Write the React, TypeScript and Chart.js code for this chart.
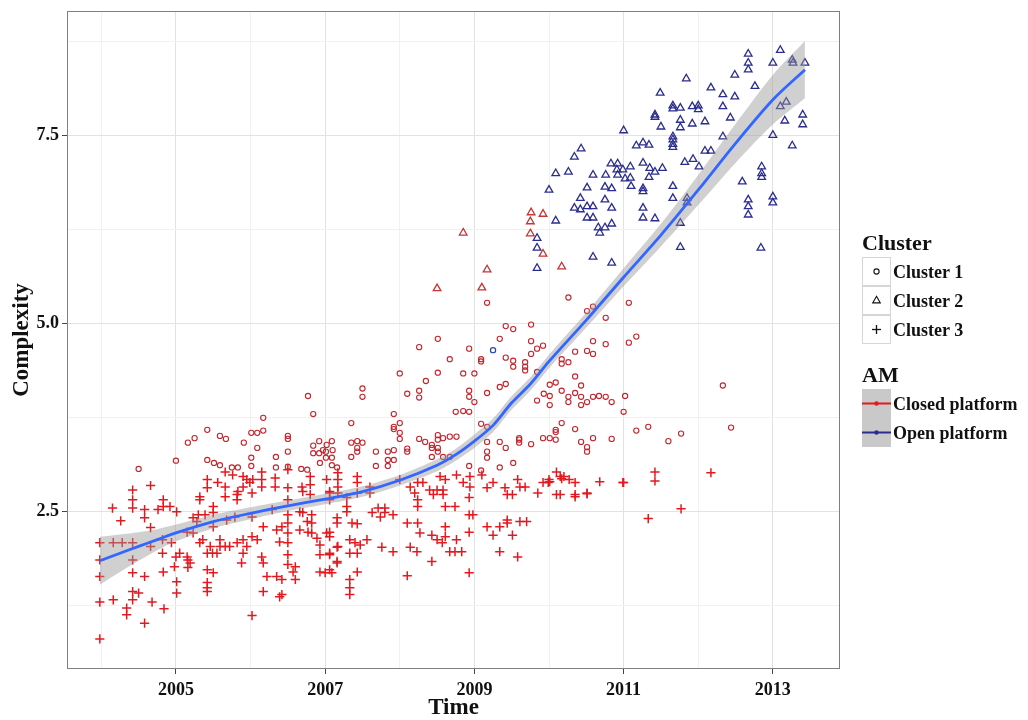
import React, { useEffect, useRef } from "react";
import { Chart, registerables } from "chart.js";

Chart.register(...registerables);

// ---------- DATA ----------
const xTickYears = [2004, 2005, 2006, 2007, 2008, 2009, 2010, 2011, 2012, 2013];
const xLabelYears = [2005, 2007, 2009, 2011, 2013];
const yTickValues = [1.25, 2.5, 3.75, 5, 6.25, 7.5, 8.75];
const yLabelValues = [2.5, 5, 7.5];

const clusterLabels = ["Cluster 1", "Cluster 2", "Cluster 3"];
const amLabels = ["Closed platform", "Open platform"];

// Closed platform, Cluster 3 (red crosses)  [time, complexity]
const closedCluster3: [number, number][] = [
  [2003.98, 2.09], [2003.98, 1.86], [2003.98, 1.64], [2003.98, 1.3], [2003.98, 0.81],
  [2004.15, 2.55], [2004.16, 2.09], [2004.16, 1.33], [2004.26, 2.38], [2004.28, 2.09],
  [2004.42, 2.79], [2004.42, 2.66], [2004.42, 2.55], [2004.42, 2.09], [2004.42, 1.86],
  [2004.42, 1.69], [2004.42, 1.44], [2004.42, 1.33], [2004.34, 1.22], [2004.34, 1.13],
  [2004.5, 1.42], [2004.58, 2.53], [2004.58, 2.42], [2004.58, 1.64], [2004.58, 1.02],
  [2004.66, 2.85], [2004.66, 2.29], [2004.66, 2.04], [2004.68, 1.3], [2004.76, 2.53],
  [2004.83, 2.66], [2004.83, 2.57], [2004.82, 2.13], [2004.82, 1.95], [2004.83, 1.7],
  [2004.84, 1.21], [2004.92, 2.57], [2004.94, 2.09], [2005.01, 2.5], [2005.0, 1.9],
  [2005.01, 1.57], [2005.01, 1.42], [2004.98, 1.77],
  [2005.42, 2.93], [2005.42, 2.82], [2005.32, 2.7], [2005.5, 2.57], [2005.5, 2.49],
  [2005.5, 2.3], [2005.32, 2.09], [2005.42, 1.95], [2005.49, 1.95], [2005.55, 1.95],
  [2005.59, 2.13], [2005.59, 2.04], [2005.42, 1.73], [2005.5, 1.69], [2005.42, 1.49],
  [2005.16, 1.86], [2005.16, 1.76], [2005.23, 2.42], [2005.28, 2.37], [2005.66, 3.03],
  [2005.66, 2.83], [2005.66, 2.7], [2005.56, 2.89], [2005.76, 2.99], [2005.82, 2.73],
  [2005.82, 2.66], [2005.68, 2.39], [2005.79, 2.43], [2005.66, 2.04], [2005.72, 2.04],
  [2005.82, 2.09], [2005.9, 2.97], [2005.95, 2.93], [2005.9, 2.83], [2005.83, 2.77],
  [2005.9, 2.13], [2005.95, 2.04], [2005.9, 1.95], [2005.88, 1.82], [2005.99, 2.89],
  [2006.03, 2.93], [2006.02, 2.75], [2006.02, 2.43], [2006.02, 2.17], [2006.09, 2.13],
  [2006.15, 3.03], [2006.15, 2.93], [2006.15, 2.83], [2006.17, 2.3], [2006.15, 1.9],
  [2006.17, 1.82], [2006.22, 1.64], [2006.35, 1.64], [2006.17, 1.44], [2006.02, 1.12],
  [2006.33, 2.95], [2006.33, 2.83], [2006.29, 2.53], [2006.35, 2.26], [2006.42, 2.3],
  [2006.39, 2.1], [2006.42, 1.6], [2006.42, 1.4], [2006.5, 3.06], [2006.5, 2.82],
  [2006.5, 2.66], [2006.5, 2.46], [2006.5, 2.35], [2006.5, 2.22], [2006.5, 2.09],
  [2006.5, 1.93], [2006.5, 1.8], [2006.6, 1.77], [2006.6, 1.6], [2006.69, 2.83],
  [2006.7, 2.77], [2006.66, 2.5], [2006.7, 2.49], [2006.66, 2.26], [2006.76, 2.37],
  [2006.8, 2.97], [2006.8, 2.86], [2006.8, 2.73], [2006.82, 2.46], [2006.82, 2.35],
  [2006.77, 2.23], [2006.82, 2.22], [2006.89, 2.15], [2006.93, 2.06], [2006.93, 1.93],
  [2006.93, 1.7], [2007.02, 2.93], [2007.06, 2.77], [2007.02, 2.22], [2007.06, 2.23],
  [2007.16, 2.42], [2007.06, 1.93], [2007.16, 1.82], [2007.0, 1.69], [2007.09, 1.69],
  [2007.17, 2.04], [2005.36, 2.13], [2005.46, 2.04], [2005.3, 2.46], [2005.39, 2.46],
  [2005.15, 2.23], [2005.23, 2.22], [2005.32, 2.66], [2005.05, 1.95], [2005.15, 1.9],
  [2005.19, 1.82], [2005.42, 1.56], [2005.42, 1.44], [2006.39, 1.37], [2006.57, 1.7],
  [2007.17, 3.02], [2007.17, 2.93], [2007.17, 2.83], [2007.17, 2.75], [2007.06, 2.75],
  [2007.06, 2.66], [2007.43, 2.97], [2007.43, 2.89], [2007.43, 2.75], [2007.6, 2.83],
  [2007.6, 2.75], [2007.29, 2.69], [2007.29, 2.57], [2007.29, 2.5], [2007.36, 2.35],
  [2007.43, 2.34], [2007.16, 2.35], [2007.71, 2.55], [2007.8, 2.55], [2007.8, 2.49],
  [2007.74, 2.43], [2007.91, 2.46], [2007.63, 2.49], [2008.0, 2.93], [2008.14, 2.83],
  [2008.2, 2.75], [2008.24, 2.89], [2008.24, 2.66], [2008.24, 2.57], [2008.4, 2.79],
  [2008.5, 2.79], [2008.58, 2.79], [2008.61, 2.93], [2008.45, 2.73], [2008.58, 2.73],
  [2008.61, 2.57], [2008.74, 2.57], [2008.76, 2.99], [2008.85, 2.89], [2008.94, 2.97],
  [2008.94, 2.83], [2008.93, 2.69], [2008.93, 2.46], [2009.1, 2.99], [2009.17, 2.82],
  [2009.25, 2.89], [2009.41, 2.82], [2009.44, 2.73], [2009.51, 2.73], [2009.58, 2.93],
  [2009.61, 2.83], [2009.68, 2.83], [2009.85, 2.75], [2009.92, 2.89], [2009.99, 2.89],
  [2010.0, 2.93], [2010.1, 3.03], [2010.15, 2.97], [2010.2, 2.97], [2010.27, 2.93],
  [2010.1, 2.73], [2010.35, 2.73], [2008.1, 2.35], [2008.24, 2.35], [2008.27, 2.22],
  [2008.61, 2.3], [2008.61, 2.17], [2008.76, 2.13], [2008.98, 2.46], [2008.93, 2.23],
  [2009.17, 2.3], [2009.25, 2.19], [2009.34, 2.3], [2009.44, 2.35], [2009.51, 2.19],
  [2009.44, 2.39], [2009.61, 2.37], [2009.7, 2.37], [2007.76, 2.03], [2007.91, 1.97],
  [2008.14, 2.03], [2008.23, 1.97], [2008.43, 2.19], [2008.5, 2.13], [2008.57, 2.09],
  [2008.67, 1.97], [2008.74, 1.97], [2008.83, 1.97], [2008.43, 1.84], [2009.34, 1.97],
  [2009.58, 1.9], [2008.1, 1.65], [2008.93, 1.69], [2007.33, 1.6], [2007.33, 1.49],
  [2007.33, 1.4], [2007.06, 2.17], [2007.16, 2.03], [2007.06, 1.95], [2007.16, 1.84],
  [2007.06, 1.73], [2007.43, 1.7], [2007.33, 2.13], [2007.4, 2.09], [2007.47, 2.06],
  [2007.56, 2.13], [2007.33, 1.95], [2007.43, 1.95], [2008.54, 2.97], [2008.31, 2.89],
  [2010.01, 2.9], [2010.51, 2.75], [2010.68, 2.9], [2010.99, 2.89], [2010.17, 2.94],
  [2010.35, 2.89], [2010.15, 2.73], [2010.35, 2.7], [2010.51, 2.74], [2011.0, 2.89],
  [2011.42, 3.03], [2011.42, 2.91], [2012.17, 3.02], [2011.77, 2.54], [2011.33, 2.41],
];

// Closed platform, Cluster 1 (red circles)
const closedCluster1: [number, number][] = [
  [2004.5, 3.07], [2005.0, 3.18], [2005.16, 3.42], [2005.25, 3.48], [2005.42, 3.59],
  [2005.59, 3.51], [2005.67, 3.47], [2005.42, 3.19], [2005.51, 3.15], [2005.59, 3.12],
  [2005.75, 3.09], [2005.83, 3.09], [2005.91, 3.42], [2006.01, 3.55], [2006.09, 3.55],
  [2006.17, 3.58], [2006.17, 3.75], [2006.09, 3.35], [2006.01, 3.22], [2006.01, 3.11],
  [2006.34, 3.23], [2006.34, 3.09], [2006.5, 3.51], [2006.5, 3.47], [2006.5, 3.3],
  [2006.5, 3.1], [2006.68, 3.07], [2006.76, 3.06], [2006.84, 3.8], [2006.77, 4.04],
  [2006.84, 3.38], [2006.92, 3.44], [2006.92, 3.28], [2006.97, 3.32], [2007.01, 3.3],
  [2007.09, 3.44], [2006.93, 3.15], [2007.01, 3.22], [2007.09, 3.22], [2007.09, 3.12],
  [2007.16, 3.09], [2007.35, 3.68], [2007.35, 3.42], [2007.43, 3.44], [2007.43, 3.3],
  [2007.35, 3.23], [2007.02, 3.39], [2006.84, 3.28], [2007.1, 3.32],
  [2009.17, 5.28], [2010.26, 5.35], [2009.42, 4.97], [2009.52, 4.93], [2009.76, 4.99],
  [2010.51, 5.17], [2010.59, 5.23], [2010.76, 5.08], [2011.07, 5.28], [2008.51, 4.8],
  [2008.26, 4.69], [2008.93, 4.67], [2009.34, 4.8], [2009.76, 4.77], [2009.84, 4.67],
  [2009.92, 4.71], [2009.76, 4.6], [2010.59, 4.77], [2010.76, 4.73], [2010.51, 4.64],
  [2010.59, 4.6], [2011.07, 4.75], [2008.67, 4.53], [2009.09, 4.53], [2009.09, 4.5],
  [2009.42, 4.55], [2009.52, 4.51], [2009.52, 4.43], [2009.68, 4.49], [2009.68, 4.43],
  [2009.68, 4.38], [2009.84, 4.36], [2010.35, 4.63], [2010.17, 4.47], [2010.26, 4.49],
  [2010.17, 4.53], [2008.0, 4.34], [2008.35, 4.24], [2008.51, 4.35], [2008.85, 4.34],
  [2009.0, 4.34], [2009.34, 4.16], [2009.42, 4.2], [2010.35, 4.3], [2007.5, 4.14],
  [2007.5, 4.03], [2008.1, 4.07], [2008.26, 4.11], [2008.26, 4.02], [2008.93, 4.11],
  [2008.93, 4.03], [2009.0, 3.96], [2009.17, 4.08], [2010.01, 4.19], [2010.09, 4.22],
  [2009.93, 4.07], [2010.01, 4.04], [2009.84, 3.98], [2010.01, 3.92], [2010.17, 4.11],
  [2010.26, 4.03], [2010.35, 4.08], [2010.43, 4.18], [2010.43, 4.03], [2010.51, 3.96],
  [2010.59, 4.03], [2010.67, 4.04], [2010.76, 4.03], [2010.84, 3.96], [2011.02, 4.04],
  [2011.0, 3.83], [2010.43, 3.92], [2010.26, 3.96], [2008.75, 3.83], [2008.85, 3.84],
  [2008.93, 3.83], [2007.92, 3.8], [2007.92, 3.63], [2007.92, 3.6], [2008.0, 3.68],
  [2008.0, 3.55], [2008.0, 3.47], [2009.09, 3.67], [2009.17, 3.63], [2010.17, 3.68],
  [2010.35, 3.6], [2010.09, 3.59], [2010.09, 3.56], [2009.92, 3.48], [2010.01, 3.48],
  [2010.09, 3.46], [2010.43, 3.43], [2010.51, 3.36], [2010.51, 3.3], [2010.59, 3.48],
  [2010.84, 3.47], [2009.76, 3.4], [2009.34, 3.43], [2009.42, 3.35], [2009.52, 3.15],
  [2009.6, 3.48], [2009.6, 3.46], [2009.6, 3.42], [2009.17, 3.43], [2009.17, 3.3],
  [2009.17, 3.22], [2008.93, 3.11], [2009.09, 3.05], [2009.34, 3.09], [2008.26, 3.47],
  [2008.34, 3.43], [2008.43, 3.39], [2008.51, 3.52], [2008.51, 3.46], [2008.58, 3.48],
  [2008.67, 3.5], [2008.76, 3.5], [2008.1, 3.34], [2008.1, 3.3], [2008.43, 3.35],
  [2008.43, 3.23], [2008.51, 3.35], [2008.51, 3.3], [2008.58, 3.23], [2008.67, 3.23],
  [2007.84, 3.3], [2007.92, 3.32], [2007.84, 3.19], [2007.92, 3.19], [2007.84, 3.11],
  [2007.68, 3.3], [2007.68, 3.11], [2007.5, 3.42], [2007.43, 3.35],
  [2011.17, 4.83], [2012.33, 4.18], [2011.17, 3.58], [2011.33, 3.63], [2011.6, 3.44],
  [2011.77, 3.54], [2012.44, 3.62],
];

// Closed platform, Cluster 2 (red triangles)
const closedCluster2: [number, number][] = [
  [2008.85, 6.21], [2008.5, 5.47], [2009.1, 5.48], [2009.17, 5.72], [2009.76, 6.48],
  [2009.92, 6.46], [2009.75, 6.36], [2009.75, 6.2], [2009.92, 5.93], [2010.17, 5.76],
];

// Open platform, Cluster 1 (blue circle)
const openCluster1: [number, number][] = [[2009.25, 4.65]];

// Open platform, Cluster 2 (blue triangles)
const openCluster2: [number, number][] = [
  [2012.67, 8.59], [2012.67, 8.47], [2012.67, 8.38], [2013.1, 8.64], [2013.0, 8.47],
  [2013.26, 8.51], [2013.27, 8.47], [2013.43, 8.47], [2012.49, 8.31], [2012.76, 8.16],
  [2011.84, 8.26], [2012.17, 8.14], [2012.33, 8.05], [2012.49, 8.02], [2011.49, 8.07],
  [2011.66, 7.9], [2011.76, 7.87], [2011.66, 7.86], [2011.92, 7.89], [2012.0, 7.9],
  [2012.0, 7.85], [2012.33, 7.89], [2011.42, 7.78], [2011.42, 7.75], [2011.76, 7.71],
  [2011.76, 7.61], [2011.92, 7.66], [2012.09, 7.69], [2012.43, 7.74], [2011.5, 7.62],
  [2011.0, 7.57], [2011.66, 7.49], [2011.66, 7.45], [2011.66, 7.39], [2011.66, 7.35],
  [2012.33, 7.49], [2013.18, 7.95], [2013.1, 7.89], [2013.16, 7.7], [2013.4, 7.78],
  [2013.4, 7.65], [2013.0, 7.51], [2013.26, 7.37], [2011.17, 7.37], [2011.26, 7.41],
  [2011.34, 7.38], [2010.43, 7.33], [2010.34, 7.22], [2012.09, 7.3], [2012.17, 7.3],
  [2011.82, 7.15], [2011.93, 7.19], [2012.01, 7.09], [2010.83, 7.13], [2010.92, 7.13],
  [2010.91, 7.05], [2010.99, 7.05], [2011.09, 7.09], [2011.26, 7.14], [2011.35, 7.07],
  [2011.42, 7.02], [2011.52, 7.07], [2010.09, 7.0], [2010.26, 7.02], [2010.59, 6.98],
  [2010.76, 6.98], [2010.92, 6.98], [2011.09, 6.94], [2011.02, 6.93], [2011.34, 6.95],
  [2010.0, 6.78], [2010.51, 6.81], [2010.75, 6.82], [2010.84, 6.8], [2011.1, 6.83],
  [2011.26, 6.8], [2011.26, 6.76], [2011.66, 6.83], [2011.66, 6.67], [2011.85, 6.67],
  [2011.85, 6.61], [2012.59, 6.89], [2012.85, 7.09], [2012.85, 7.0], [2012.85, 6.95],
  [2010.42, 6.67], [2010.34, 6.54], [2010.42, 6.52], [2010.51, 6.56], [2010.59, 6.56],
  [2010.75, 6.65], [2010.84, 6.54], [2010.51, 6.41], [2010.59, 6.41], [2010.09, 6.37],
  [2010.66, 6.28], [2010.75, 6.28], [2010.84, 6.33], [2010.68, 6.21], [2011.26, 6.54],
  [2011.26, 6.41], [2011.42, 6.4], [2011.76, 6.34], [2012.67, 6.65], [2012.67, 6.56],
  [2012.67, 6.45], [2013.0, 6.69], [2013.0, 6.61], [2009.84, 6.14], [2009.84, 6.01],
  [2009.84, 5.74], [2010.59, 5.89], [2010.84, 5.81], [2011.76, 6.02], [2012.84, 6.01],
];

// Loess smooth (fit and confidence band)
const smoothTime = [2003.98, 2004.25, 2004.5, 2004.75, 2005.0, 2005.5, 2006.0, 2006.5, 2007.0, 2007.5, 2008.0, 2008.5, 2008.75, 2009.0, 2009.25, 2009.5, 2009.75, 2010.0, 2010.5, 2011.0, 2011.5, 2012.0, 2012.5, 2013.0, 2013.43];
const smoothFit = [1.85, 1.95, 2.04, 2.13, 2.22, 2.37, 2.48, 2.58, 2.67, 2.77, 2.92, 3.12, 3.26, 3.44, 3.65, 3.95, 4.2, 4.5, 5.05, 5.62, 6.18, 6.78, 7.4, 7.98, 8.38];
const smoothLower = [1.53, 1.7, 1.85, 1.99, 2.11, 2.28, 2.4, 2.51, 2.6, 2.7, 2.85, 3.04, 3.18, 3.35, 3.56, 3.86, 4.11, 4.41, 4.95, 5.5, 6.03, 6.58, 7.14, 7.65, 8.0];
const smoothUpper = [2.17, 2.2, 2.23, 2.27, 2.33, 2.46, 2.56, 2.65, 2.74, 2.84, 2.99, 3.2, 3.34, 3.53, 3.74, 4.04, 4.29, 4.59, 5.15, 5.74, 6.33, 6.98, 7.66, 8.31, 8.76];

// ---------- STYLE ----------
const FONT = '"Liberation Serif", "Times New Roman", serif';
const RED_CROSS = "#e3191f";
const RED_CIRCLE = "#c0262d";
const RED_TRI = "#c43535";
const BLUE_TRI = "#2b2d8e";
const BLUE_CIRCLE = "#2948a8";
const SMOOTH = "#3366ff";

const toXY = (pts: [number, number][]) => pts.map(([x, y]) => ({ x, y }));
const line = (ys: number[]) => smoothTime.map((x, i) => ({ x, y: ys[i] }));

const panelBorder = {
  id: "panelBorder",
  afterDraw(chart: any) {
    const { ctx, chartArea } = chart;
    ctx.save();
    ctx.strokeStyle = "#7f7f7f";
    ctx.lineWidth = 1;
    ctx.strokeRect(
      Math.round(chartArea.left) + 0.5,
      Math.round(chartArea.top) + 0.5,
      Math.round(chartArea.right - chartArea.left) - 1,
      Math.round(chartArea.bottom - chartArea.top) - 1
    );
    ctx.restore();
  },
};

export default function App() {
  const ref = useRef<HTMLCanvasElement>(null);

  useEffect(() => {
    document.body.style.margin = "0";
    const canvas = ref.current;
    if (!canvas) return;
    const chart = new Chart(canvas, {
      type: "line",
      data: {
        datasets: [
          {
            label: "fit",
            data: line(smoothFit),
            borderColor: SMOOTH,
            borderWidth: 2.8,
            pointRadius: 0,
            fill: false,
            tension: 0.3,
            order: 0,
          } as any,
          {
            label: "upper",
            data: line(smoothUpper),
            borderColor: "rgba(0,0,0,0)",
            borderWidth: 0,
            pointRadius: 0,
            fill: 2,
            backgroundColor: "rgba(150,150,150,0.45)",
            tension: 0.3,
            order: 1,
          },
          {
            label: "lower",
            data: line(smoothLower),
            borderColor: "rgba(0,0,0,0)",
            borderWidth: 0,
            pointRadius: 0,
            fill: false,
            tension: 0.3,
            order: 1,
          },
          {
            label: "closed-c3",
            data: toXY(closedCluster3),
            showLine: false,
            pointStyle: "cross",
            pointRadius: 4.6,
            borderColor: RED_CROSS,
            backgroundColor: RED_CROSS,
            pointBorderWidth: 1.5,
            order: 5,
          },
          {
            label: "closed-c1",
            data: toXY(closedCluster1),
            showLine: false,
            pointStyle: "circle",
            pointRadius: 2.6,
            borderColor: RED_CIRCLE,
            backgroundColor: "rgba(0,0,0,0)",
            pointBorderWidth: 1.1,
            order: 4,
          },
          {
            label: "closed-c2",
            data: toXY(closedCluster2),
            showLine: false,
            pointStyle: "triangle",
            pointRadius: 4.4,
            borderColor: RED_TRI,
            backgroundColor: "rgba(0,0,0,0)",
            pointBorderWidth: 1.3,
            order: 3,
          },
          {
            label: "open-c2",
            data: toXY(openCluster2),
            showLine: false,
            pointStyle: "triangle",
            pointRadius: 4.4,
            borderColor: BLUE_TRI,
            backgroundColor: "rgba(0,0,0,0)",
            pointBorderWidth: 1.3,
            order: 3,
          },
          {
            label: "open-c1",
            data: toXY(openCluster1),
            showLine: false,
            pointStyle: "circle",
            pointRadius: 2.6,
            borderColor: BLUE_CIRCLE,
            backgroundColor: "rgba(0,0,0,0)",
            pointBorderWidth: 1.2,
            order: 3,
          },
        ],
      },
      options: {
        animation: false,
        responsive: false,
        devicePixelRatio: 1,
        events: [],
        layout: { padding: { top: 11, right: 188, bottom: 0, left: 0 } },
        plugins: {
          legend: { display: false },
          tooltip: { enabled: false },
        },
        scales: {
          x: {
            type: "linear",
            min: 2003.54,
            max: 2013.9,
            afterBuildTicks: (s: any) => {
              s.ticks = xTickYears.map((v) => ({ value: v }));
            },
            afterFit: (s: any) => {
              s.height = 51;
              s.paddingLeft = 0;
              s.paddingRight = 0;
            },
            ticks: {
              autoSkip: false,
              maxRotation: 0,
              padding: 6,
              color: "#111",
              font: { family: FONT, size: 18, weight: "bold" },
              callback: (v: any) => (xLabelYears.includes(Number(v)) ? String(v) : ""),
            },
            grid: {
              lineWidth: 1,
              tickLength: 5,
              color: (c: any) => (xLabelYears.includes(c.tick?.value) ? "#e2e2e2" : "#f1f1f1"),
              tickColor: (c: any) => (xLabelYears.includes(c.tick?.value) ? "#444" : "rgba(0,0,0,0)"),
            },
            border: { display: false },
            title: {
              display: true,
              text: "Time",
              color: "#111",
              font: { family: FONT, size: 23, weight: "bold", lineHeight: 1 },
              padding: { top: 0, bottom: 0 },
            },
          },
          y: {
            type: "linear",
            min: 0.41,
            max: 9.16,
            afterBuildTicks: (s: any) => {
              s.ticks = yTickValues.map((v) => ({ value: v }));
            },
            afterFit: (s: any) => {
              s.width = 67;
              s.paddingTop = 0;
              s.paddingBottom = 0;
            },
            ticks: {
              padding: 3,
              color: "#111",
              font: { family: FONT, size: 18, weight: "bold" },
              callback: (v: any) => (yLabelValues.includes(Number(v)) ? Number(v).toFixed(1) : ""),
            },
            grid: {
              lineWidth: 1,
              tickLength: 5,
              color: (c: any) => (yLabelValues.includes(c.tick?.value) ? "#e2e2e2" : "#f1f1f1"),
              tickColor: (c: any) => (yLabelValues.includes(c.tick?.value) ? "#444" : "rgba(0,0,0,0)"),
            },
            border: { display: false },
            title: {
              display: true,
              text: "Complexity",
              color: "#111",
              font: { family: FONT, size: 23, weight: "bold", lineHeight: 1 },
              padding: { top: 11, bottom: 0 },
            },
          },
        },
      },
      plugins: [panelBorder],
    } as any);
    return () => chart.destroy();
  }, []);

  const text = (top: number, left: number, size: number, content: string) => (
    <div
      style={{
        position: "absolute",
        top,
        left,
        fontFamily: FONT,
        fontWeight: "bold",
        fontSize: size,
        lineHeight: `${size}px`,
        color: "#111",
        whiteSpace: "nowrap",
      }}
    >
      {content}
    </div>
  );

  const keyBox = (top: number, shape: string) => (
    <svg
      key={shape}
      width={29}
      height={29}
      style={{ position: "absolute", left: 862, top }}
    >
      <rect x={0.5} y={0.5} width={28} height={28} fill="#fff" stroke="#d6d6d6" />
      {shape === "circle" && <circle cx={14.5} cy={14.5} r={2.6} fill="none" stroke="#111" strokeWidth={1.1} />}
      {shape === "triangle" && (
        <polygon points="14.5,10.3 18.3,16.9 10.7,16.9" fill="none" stroke="#111" strokeWidth={1.1} />
      )}
      {shape === "cross" && (
        <g stroke="#111" strokeWidth={1.3}>
          <line x1={10} y1={14.5} x2={19} y2={14.5} />
          <line x1={14.5} y1={10} x2={14.5} y2={19} />
        </g>
      )}
    </svg>
  );

  const rowTops = [257, 286, 315];
  const shapes = ["circle", "triangle", "cross"];

  return (
    <div style={{ position: "relative", width: 1028, height: 720, background: "#fff", overflow: "hidden" }}>
      <canvas
        ref={ref}
        width={1028}
        height={720}
        style={{ position: "absolute", left: 0, top: 0, width: 1028, height: 720 }}
      />
      {text(232, 862, 22, "Cluster")}
      {shapes.map((s, i) => keyBox(rowTops[i], s))}
      {clusterLabels.map((l, i) => (
        <React.Fragment key={l}>{text(rowTops[i] + 5.5, 893, 18, l)}</React.Fragment>
      ))}
      {text(364, 862, 22, "AM")}
      <svg width={29} height={58} style={{ position: "absolute", left: 862, top: 389 }}>
        <rect x={0} y={0} width={29} height={58} fill="#c9c9c9" />
        <line x1={0} y1={14.5} x2={29} y2={14.5} stroke={RED_CROSS} strokeWidth={2} />
        <circle cx={14.5} cy={14.5} r={2.2} fill={RED_CROSS} />
        <line x1={0} y1={43.5} x2={29} y2={43.5} stroke={BLUE_TRI} strokeWidth={2} />
        <circle cx={14.5} cy={43.5} r={2.2} fill={BLUE_TRI} />
      </svg>
      {amLabels.map((l, i) => (
        <React.Fragment key={l}>{text(395 + i * 29, 893, 18, l)}</React.Fragment>
      ))}
    </div>
  );
}
